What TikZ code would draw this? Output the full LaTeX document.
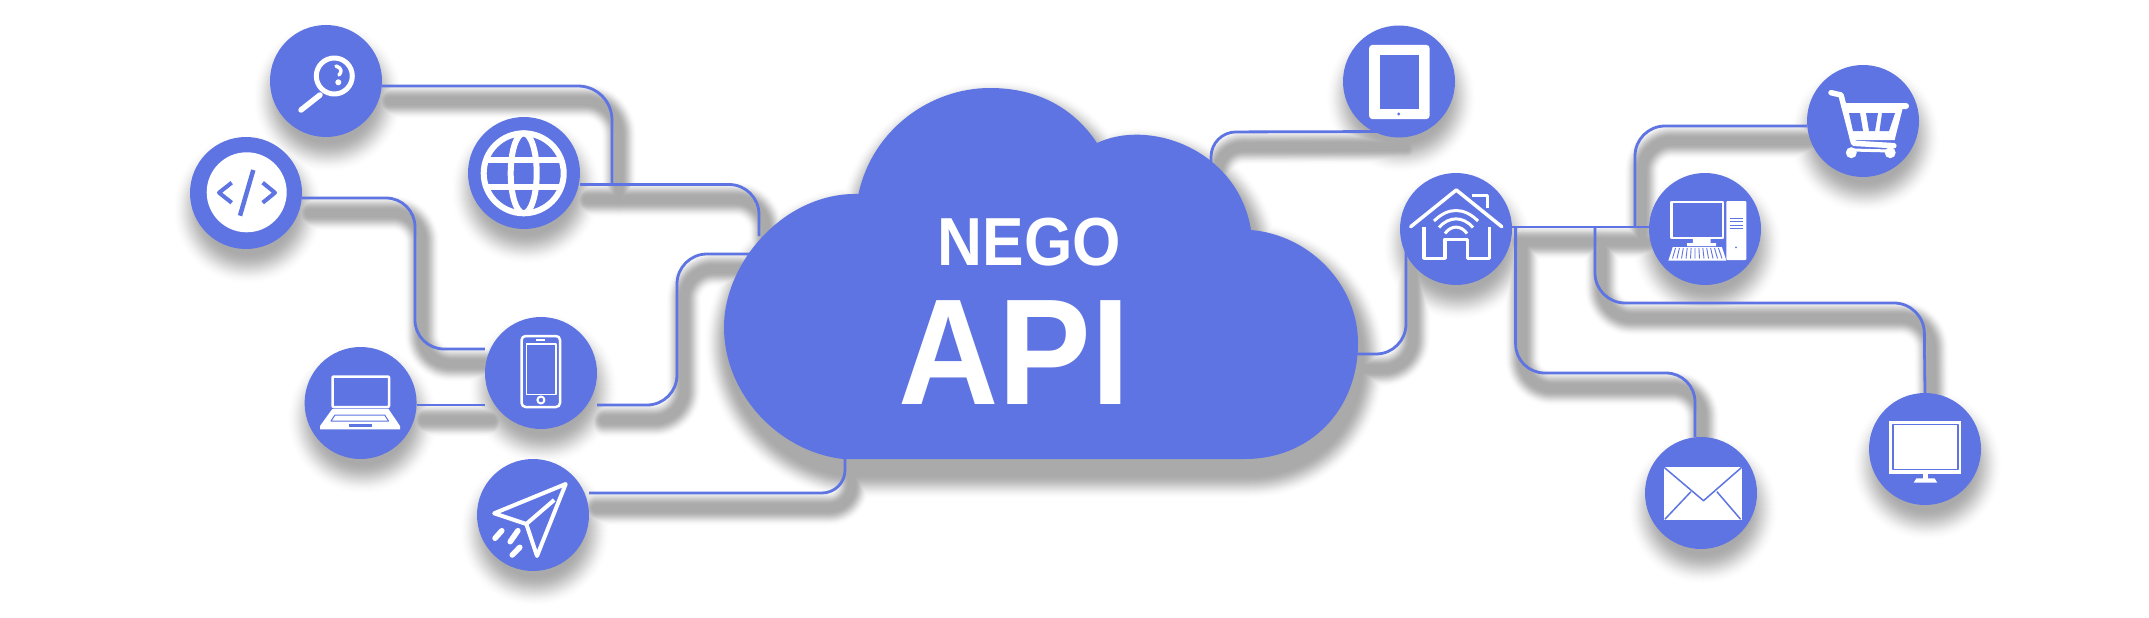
\documentclass[tikz,border=0pt]{standalone}
\usepackage{fontspec}
\usepackage{graphicx}
\setmainfont{Liberation Sans}
\definecolor{brand}{RGB}{94,116,227}
\pgfdeclarelayer{shade}
\pgfdeclarelayer{wires}
\pgfsetlayers{shade,wires,main}
\tikzset{
  hub/.style={circle,fill=brand,draw=none,inner sep=0pt,minimum size=112pt},
  wire/.style={draw=brand,line width=2.8pt},
  ink/.style={draw=white,line join=round},
  blueink/.style={draw=brand,line join=round},
  title/.style={text=white,inner sep=0pt,anchor=base}
}
\newcommand\cloudpath{
  (843,459)
  .. controls (780,452) and (724,395) .. (724,327)
  .. controls (724,262) and (785,192) .. (858.5,194)
  .. controls (872,130) and (930,88) .. (990,88)
  .. controls (1040,88) and (1075,110) .. (1097,143)
  .. controls (1150,118) and (1238,150) .. (1251,230)
  .. controls (1310,235) and (1358,285) .. (1358,343)
  .. controls (1358,410) and (1310,459) .. (1245,459)
  -- cycle
}
\newcommand\wirepaths{
  \draw[wire,rounded corners=34pt] ([yshift=-5pt]search.east) -- (612,86) -- (jglobe);
  \draw[wire,rounded corners=30pt] ([yshift=-11.5pt]globe.east) -- (759,184.5) -- (cA);
  \draw[wire,rounded corners=29pt] ([yshift=-5pt]code.east) -- (415,198) -- (415,349) -- ([yshift=24pt]phone.west);
  \draw[wire] ([yshift=-2pt]laptop.east) -- ([yshift=-32pt]phone.west);
  \draw[wire,rounded corners=30pt] ([yshift=-32pt]phone.east) -- (677,405) -- (677,254) -- (cB);
  \draw[wire,rounded corners=23pt] ([yshift=22pt]plane.east) -- (845,493) -- (cC);
  \draw[wire,rounded corners=25pt] (cD) -- (1211,132) -- ([yshift=-50pt]tablet.center);
  \draw[wire,rounded corners=30pt] (cE) -- (1406,354) -- ([xshift=-50pt]house.center);
  \draw[wire] ([yshift=2pt]house.east) -- ([yshift=2pt]pc.west);
  \draw[wire,rounded corners=30pt] (jcart) -- (1635,126) -- ([yshift=-5pt]cart.west);
  \draw[wire,rounded corners=30pt] (jmon) -- (1595,303) -- (1924,303) -- (monitor.north);
  \draw[wire,rounded corners=29pt] (jmail) -- (1515.6,373) -- (1695,373) -- ([xshift=-6pt]mail.north);
}
\begin{document}
\begin{tikzpicture}[x=1pt,y=-1pt]
\useasboundingbox (0,0) rectangle (2149,618);

% the cloud
\fill[brand] \cloudpath;
\node[title,font=\fontsize{68}{68}\bfseries] (nego) at (1029.5,265.5) {\scalebox{0.915}[1]{NEGO}};
\node[title,font=\fontsize{151}{151}\bfseries] (api) at (1014,404) {\scalebox{0.92}[1]{API}};

% free ends
\coordinate (cA) at (759,236);
\coordinate (cB) at (750,254);
\coordinate (cC) at (845,455);
\coordinate (cD) at (1211,162);
\coordinate (cE) at (1350,354);
\coordinate (jglobe) at (612,184.5);
\coordinate (jcart) at (1635,227);
\coordinate (jmon) at (1595,227);
\coordinate (jmail) at (1515.6,227);

% hubs
\node[hub] (search) at (326,81) {};
\node[hub] (code) at (246,193) {};
\node[hub] (globe) at (524,173) {};
\node[hub] (laptop) at (360.6,403) {};
\node[hub] (phone) at (541,373) {};
\node[hub] (plane) at (533,515) {};
\node[hub] (tablet) at (1399,81.5) {};
\node[hub] (cart) at (1863,121) {};
\node[hub] (house) at (1456,229) {};
\node[hub] (pc) at (1705,229) {};
\node[hub] (mail) at (1701,493) {};
\node[hub] (monitor) at (1925,449) {};

% search icon
\draw[ink,line width=5pt] (334.3,76) circle (18);
\draw[ink,line width=5.5pt,line cap=round] (320,95) -- (301,110);
\fill[white] (338.3,82.3) circle (3);
\draw[ink,line width=3.5pt,line cap=round] (336,66) .. controls (342,68) and (342,72) .. (339,75);

% code icon
\fill[white] (246.7,192.3) circle (40);
\draw[blueink,line width=4.5pt] (253.3,170) -- (240,215.7);
\draw[blueink,line width=4pt] (231.7,182.7) -- (219,192.7) -- (231.7,202.7);
\draw[blueink,line width=4pt] (262.7,182.7) -- (275,192.7) -- (262.7,202.7);

% globe icon
\draw[ink,line width=6pt] (523.7,173.3) circle (40);
\draw[ink,line width=6pt] (523.7,173.3) ellipse (13 and 40);
\draw[ink,line width=6pt] (486,160) -- (561.4,160);
\draw[ink,line width=6pt] (486,186.7) -- (561.4,186.7);

% laptop icon
\draw[ink,line width=2.5pt,rounded corners=1pt] (332.5,376.5) rectangle (389,407);
\fill[white] (332.3,409) -- (388.5,409) -- (400,426) -- (400,429.3) -- (320,429.3) -- (320,426) -- cycle;
\draw[blueink,line width=1pt] (335,415) -- (384.7,415) -- (388.5,421) -- (331,421) -- cycle;
\fill[brand] (348.7,424.3) rectangle (371.7,427);

% phone icon
\draw[ink,line width=2.5pt,rounded corners=4pt] (521.6,336) rectangle (560,407);
\draw[ink,line width=1.5pt] (526.3,343.8) rectangle (556.2,394.5);
\draw[ink,line width=1.5pt] (536.3,340) -- (545.4,340);
\draw[ink,line width=2pt] (540.9,400) circle (3.5);

% plane icon
\draw[ink,line width=4pt] (565.7,484) -- (494.2,513.3) -- (526.3,524) -- (537,556) -- cycle;
\draw[ink,line width=4pt] (526.3,524) -- (554.2,500);
\draw[ink,line width=5.5pt,line cap=round] (495,538.3) -- (501.8,530.7);
\draw[ink,line width=5.5pt,line cap=round] (510.2,541.7) -- (517.9,530.7);
\draw[ink,line width=5.5pt,line cap=round] (512.2,555) -- (519.8,547.3);

% tablet icon
\fill[white,rounded corners=3pt] (1369.2,45) rectangle (1429.5,119);
\fill[brand] (1379.5,55) rectangle (1419.2,109);
\fill[brand] (1398.7,114) circle (1.7);

% house icon
\draw[ink,line width=3.5pt,line cap=round] (1410.7,226.7) -- (1456.3,190) -- (1501.8,226.7);
\draw[ink,line width=3pt] (1471.9,195) -- (1487.5,195) -- (1487.5,208.3);
\draw[ink,line width=3.5pt] (1424,227.3) -- (1424,258.3) -- (1445,258.3) -- (1445,239.3) -- (1467.4,239.3) -- (1467.4,258.3) -- (1489.7,258.3) -- (1489.7,227.3);
\draw[ink,line width=3pt] (1434,221) .. controls (1448,207) and (1464,207) .. (1478,221);
\draw[ink,line width=3pt] (1439,227.5) .. controls (1449,216) and (1463,216) .. (1473,227.5);
\draw[ink,line width=3pt] (1445,233.5) .. controls (1451,225) and (1461,225) .. (1467,233.5);

% computer icon
\draw[ink,line width=2.5pt] (1671.7,202.2) rectangle (1722.8,237.8);
\fill[white] (1692.9,239) rectangle (1700,243) (1703,239) rectangle (1710.7,243) (1687,243) rectangle (1716,246) (1696,238) rectangle (1707,244);
\fill[white] (1672.8,247) -- (1721.9,247) -- (1726.3,260.7) -- (1668.3,260.7) -- cycle;
\foreach \k in {0,...,11}
  \draw[blueink,line width=.9pt] (1675.5+\k*3.9,248) -- (1672.5+\k*4.5,258.5);
\fill[white,rounded corners=1pt] (1726.3,201) rectangle (1746.4,260);
\foreach \yy in {218.3,221.7,225,228.3}
  \draw[blueink,line width=.9pt] (1729.5,\yy) -- (1743.3,\yy);
\fill[brand] (1736,247.3) circle (1);

% cart icon
\draw[ink,line width=5.5pt,line cap=round] (1831,92.7) -- (1841,95) -- (1853.6,143.3) -- (1893.8,145.7);
\fill[white] (1844,103) -- (1904,103) -- (1906,109) -- (1902.5,109) -- (1894.6,140) -- (1850,140) -- cycle;
\draw[ink,line width=6pt,line cap=round] (1844,106) -- (1906,106);
\fill[brand] (1849,113) -- (1860,113) -- (1863,131) -- (1853,131) -- cycle;
\fill[brand] (1866,113) -- (1878,113) -- (1875,131) -- (1869,131) -- cycle;
\fill[brand] (1882,113) -- (1895,113) -- (1889,131) -- (1879.5,131) -- cycle;
\fill[white] (1851.3,152.7) circle (5.5);
\fill[white] (1890.2,152.7) circle (5.5);
\draw[ink,line width=3pt] (1851.3,150) -- (1890.2,151);

% mail icon
\fill[white] (1664,467.3) rectangle (1741.7,520);
\draw[blueink,line width=1.5pt] (1664,467.3) -- (1703.5,500.7) -- (1741.7,467.3);
\draw[blueink,line width=1.5pt] (1690.9,491.7) -- (1664.8,519.3);
\draw[blueink,line width=1.5pt] (1716.9,491.7) -- (1740.6,519.3);

% monitor icon
\fill[white] (1889,421) rectangle (1961,474);
\draw[blueink,line width=1.2pt] (1893,424.3) rectangle (1958,469.3);
\fill[white] (1922.8,474) rectangle (1928.1,479);
\fill[white] (1916.5,478.3) -- (1934.5,478.3) -- (1937.3,482.7) -- (1913.6,482.7) -- cycle;

% connectors
\begin{pgfonlayer}{wires}
\wirepaths
\end{pgfonlayer}

% soft shadows, widest and palest first
\begin{pgfonlayer}{shade}
\fill[white] (0,0) rectangle (2149,618);
\foreach \sd in {20,19,...,-12}{
  \pgfmathsetmacro\sq{(\sd+12)/32}
  \pgfmathsetmacro\sg{0.667+0.333*(3*\sq*\sq-2*\sq*\sq*\sq)}
  \pgfmathsetmacro\sw{2*(3+15*\sq)}
  \pgfmathsetmacro\sr{56+\sd}
  \pgfmathsetmacro\sc{2*(24*\sq)}
  \definecolor{sh}{gray}{\sg}
  \begin{scope}[transform canvas={shift={(7,15)}}]
    \tikzset{wire/.style={draw=sh,line width=\sw pt,line cap=round}}
    \wirepaths
  \end{scope}
  \begin{scope}[transform canvas={shift={(4,16)}}]
    \filldraw[draw=sh,fill=sh,line width=\sc pt,line join=round] \cloudpath;
  \end{scope}
  \begin{scope}[transform canvas={shift={(2,16)}}]
    \foreach \n in {search,code,globe,laptop,phone,plane,tablet,cart,house,pc,mail,monitor}
      \fill[sh] (\n.center) circle (\sr);
  \end{scope}
}
\end{pgfonlayer}
\end{tikzpicture}
\end{document}
